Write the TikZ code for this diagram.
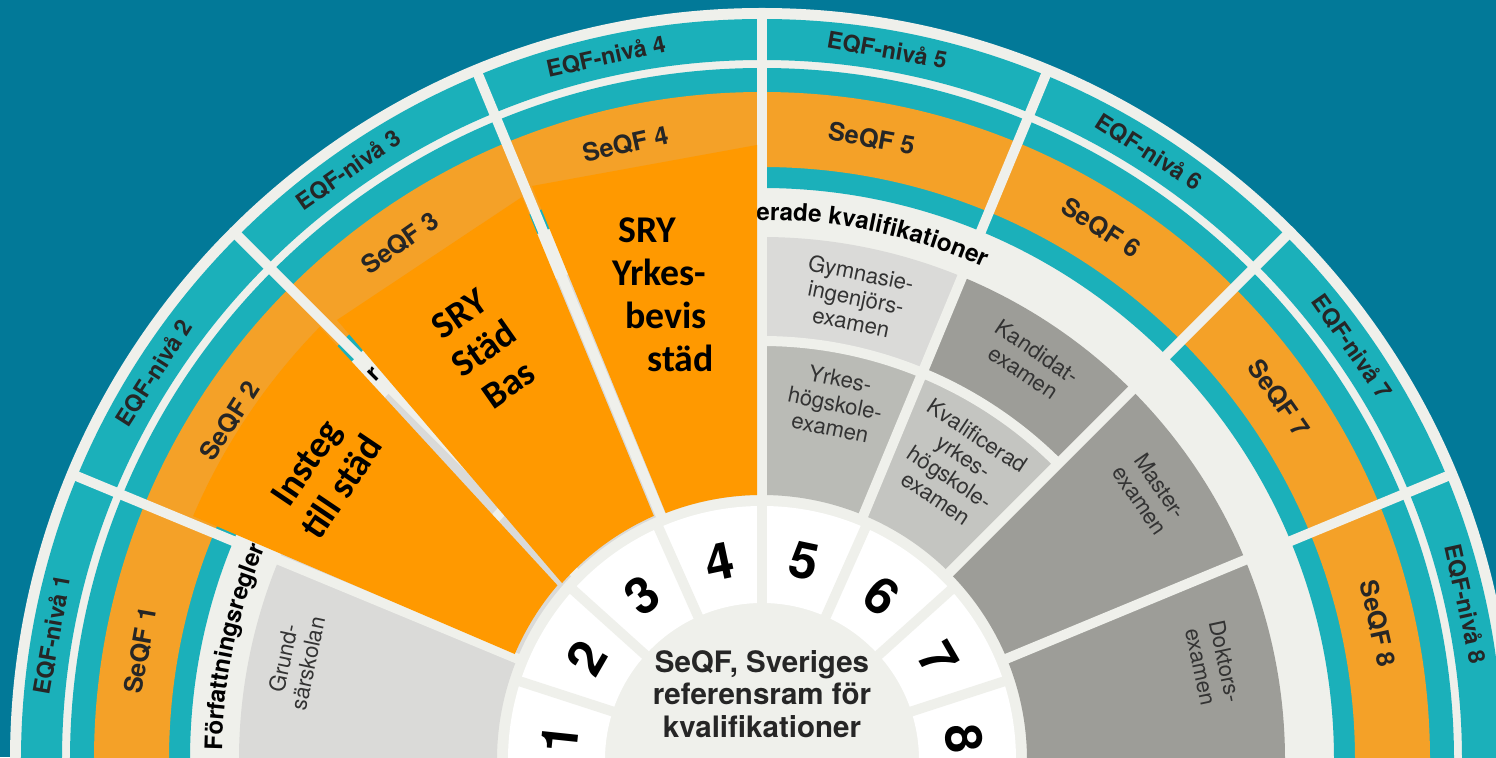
\documentclass[tikz,border=0pt]{standalone}
\usepackage{fontspec}
\setsansfont{TeX Gyre Heros}
\newfontfamily\sryfont{Carlito}
\usetikzlibrary{decorations.text}

\definecolor{bgblue}{RGB}{2,121,152}
\definecolor{seqfteal}{RGB}{27,176,186}
\definecolor{seqforange}{RGB}{244,161,40}
\definecolor{sryorange}{RGB}{255,153,0}
\definecolor{ringlight}{RGB}{239,240,235}
\definecolor{cellpale}{RGB}{218,218,216}
\definecolor{cellmid}{RGB}{186,187,182}
\definecolor{celldark}{RGB}{157,157,152}

\tikzset{
  gapline/.style={draw=ringlight, line width=0.2cm},
  eqflabel/.style={font=\sffamily\bfseries\fontsize{13.2}{16}\selectfont, text=black!85},
  seqflabel/.style={font=\sffamily\bfseries\fontsize{14.4}{17}\selectfont, text=black!85},
  numlabel/.style={font=\sffamily\bfseries\fontsize{29}{32}\selectfont},
  celltext/.style={font=\sffamily\fontsize{12.6}{14.2}\selectfont, align=center, text=black!80},
  centertext/.style={font=\sffamily\bfseries\fontsize{16.8}{18.4}\selectfont, align=center, text=black!85},
  srytext/.style={font=\sryfont\bfseries\fontsize{21.5}{24.5}\selectfont, align=center, inner sep=0pt},
  arcfont/.style={font=\sffamily\bfseries\fontsize{13.8}{15}\selectfont},
}

% annular sector: colour, start angle, end angle, inner radius, outer radius
\newcommand{\ringpart}[5]{\fill[#1] (#2:#4) arc[start angle=#2, end angle=#3, radius=#4] -- (#3:#5) arc[start angle=#3, end angle=#2, radius=#5] -- cycle;}

\begin{document}
\begin{tikzpicture}[x=0.02cm, y=0.02cm]
  \useasboundingbox (-762,3) rectangle (734,760);
  \fill[bgblue] (-762,3) rectangle (734,760);
  \fill[ringlight] (0,0) circle[radius=752];
  \fill[seqfteal, even odd rule] (0,0) circle[radius=741] circle[radius=700];
  \fill[seqfteal, even odd rule] (0,0) circle[radius=692] circle[radius=572];
  \fill[seqforange, even odd rule] (0,0) circle[radius=668] circle[radius=593];

  % qualification cells
  \ringpart{celldark}{0}{22.5}{265}{523}
  \ringpart{celldark}{22.5}{45}{265}{523}
  \ringpart{celldark}{45}{67.5}{419}{523}
  \ringpart{cellmid!85!white}{45}{67.5}{265}{419}
  \ringpart{cellpale}{67.5}{90}{419}{523}
  \ringpart{cellmid}{67.5}{90}{265}{419}
  \ringpart{cellpale}{90}{157.5}{265}{523}
  \ringpart{cellpale}{157.5}{180}{265}{523}

  % level ring
  \fill[white, even odd rule] (0,0) circle[radius=254] circle[radius=157];

  \foreach \k [evaluate=\k as \a using 22.5*\k] in {1,...,7}
    \draw[gapline] (\a:262) -- (\a:747);
  \foreach \k [evaluate=\k as \a using 18+24*(\k-1)] in {1,...,7}
    \draw[gapline] (\a:150) -- (\a:258);
  \draw[gapline] (45:419) arc[start angle=45, end angle=90, radius=419];
  \draw[gapline] (135:360) arc[start angle=135, end angle=157.5, radius=360];

  \foreach \k [evaluate=\k as \a using 192.5-22.5*\k] in {1,...,8} {
    \node[eqflabel, rotate=\a-90] (eqf\k) at (\a:721) {EQF-nivå \k};
    \node[seqflabel, rotate=\a-90] (seqf\k) at (\a:631) {SeQF \k};
  }
  \foreach \k [evaluate=\k as \a using 198-24*\k] in {1,...,8}
    \node[numlabel, rotate=\a-90] (level\k) at (\a:203) {\k};

  \node[centertext] (seqfcentre) at (0,66) {SeQF, Sveriges\\referensram för\\kvalifikationer};

  \node[celltext, rotate=-11.5] (gymnasie) at (78.5:472) {Gymnasie-\\ingenjörs-\\examen};
  \node[celltext, rotate=-11.6] (yh) at (78.4:364) {Yrkes-\\högskole-\\examen};
  \node[celltext, rotate=-34] (kandidat) at (56:480) {Kandidat-\\examen};
  \node[celltext, rotate=-33.6] (kvalyh) at (56.4:352) {Kvalificerad\\yrkes-\\högskole-\\examen};
  \node[celltext, rotate=-55.5] (master) at (34.5:471) {Master-\\examen};
  \node[celltext, rotate=-78] (doktor) at (12:461) {Doktors-\\examen};
  \node[celltext, rotate=78] (grundsar) at (168:477) {Grund-\\särskolan};

  \path[decorate, decoration={text along path,
      text={|\sffamily\bfseries\fontsize{13.8}{15}\selectfont|Författningsregler}}]
    (179:540) arc[start angle=179, end angle=150, radius=540];
  \node[arcfont, rotate=45.2] (arcr) at (135.2:547) {r};
  \path[decorate, decoration={text along path,
      text={|\sffamily\bfseries\fontsize{13.8}{15}\selectfont|erade kvalifikationer}}]
    (90.6:540) arc[start angle=90.6, end angle=55, radius=540];

  % SRY courses on top
  \fill[sryorange] (156.8:619) arc[start angle=156.8, end angle=135.6, radius=619]
    -- (139.5:269) arc[start angle=139.5, end angle=156.8, radius=269] -- cycle;
  \fill[sryorange] (-425,440) -- (-240,563) -- (113.9:267)
    arc[start angle=113.9, end angle=138.5, radius=267] -- cycle;
  \fill[sryorange] (-230,574) -- (-5,615) -- (-5,265)
    arc[start angle=91.08, end angle=111.3, radius=265] -- cycle;

  \node[srytext, rotate=56] (insteg) at (-438,285) {Insteg\\till städ};
  \node[srytext, rotate=35] (stadbas) at (-278,411) {SRY\\Städ\\Bas};
  \node[srytext, align=left, anchor=west] (yrkesbevis) at (-150,465)
    {\hspace*{3.4pt}SRY\\Yrkes-\\\hspace*{7.4pt}bevis\\\hspace*{20pt}städ};
\end{tikzpicture}
\end{document}
